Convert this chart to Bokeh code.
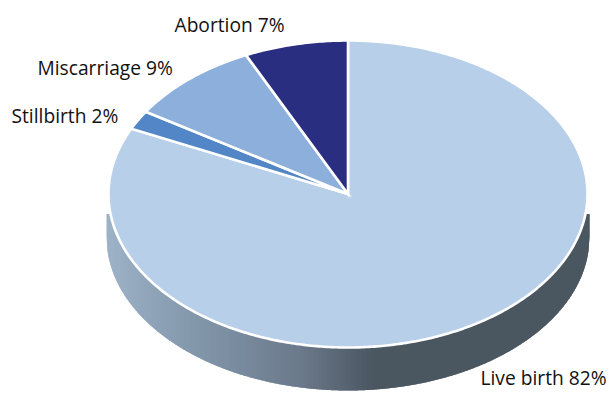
import numpy as np
from bokeh.plotting import figure
from bokeh.models import Range1d
from bokeh.core.properties import value
from bokeh.embed import file_html
from bokeh.resources import INLINE

# data
categories = ["Live birth", "Stillbirth", "Miscarriage", "Abortion"]
percent = [82, 2, 9, 7]
colors = ["#b8cfe9", "#5386c6", "#8cafdc", "#2a2e80"]

# layout (picture pixels)
cx, cy, rx, ry = 347.5, 193.5, 239.5, 153.5
depth = 43
label_x = [480, 11, 37, 174]
label_y = [377, 115, 67, 24]
wall_stops_x = [106, 200, 300, 375, 589]
wall_stops_r = [158, 130, 108, 74, 74]
wall_stops_g = [178, 150, 122, 86, 86]
wall_stops_b = [200, 170, 140, 97, 97]

p = figure(width=616, height=396, x_range=Range1d(0, 616), y_range=Range1d(396, 0),
           output_backend="svg", toolbar_location=None, min_border=0,
           outline_line_color=None, background_fill_color="white", border_fill_color="white")
p.axis.visible = False
p.grid.visible = False

# side wall, as overlapping vertical strips following the lower ellipse
xs_edge = np.arange(106.0, 590.0, 1.0)
rw = rx + 2.0
by = cy + depth + ry * np.sqrt(np.clip(1 - ((xs_edge - cx) / rw) ** 2, 0, 1))
sx, sy, sc = [], [], []
for i in range(len(xs_edge) - 1):
    x0, x1 = xs_edge[i], xs_edge[i + 1]
    x2 = xs_edge[min(i + 2, len(xs_edge) - 1)]
    y2 = by[min(i + 2, len(xs_edge) - 1)]
    sx.append([x0, x2, x2, x1, x0])
    sy.append([cy + 20, cy + 20, y2, by[i + 1], by[i]])
    m = (x0 + x1) / 2
    r = int(np.interp(m, wall_stops_x, wall_stops_r))
    g = int(np.interp(m, wall_stops_x, wall_stops_g))
    b = int(np.interp(m, wall_stops_x, wall_stops_b))
    sc.append(f"#{r:02x}{g:02x}{b:02x}")
p.patches(sx, sy, fill_color=sc, line_color=None)

# top face, clockwise from twelve o'clock
total = sum(percent)
start = 0.0
for v, c in zip(percent, colors):
    end = start + v / total * 2 * np.pi
    t = np.linspace(start, end, max(int(v * 6), 8))
    px = np.r_[cx, cx + rx * np.sin(t)]
    py = np.r_[cy, cy - ry * np.cos(t)]
    p.patch(px, py, fill_color=c, line_color="white", line_width=2.6, line_join="miter")
    start = end

for name, v, lx, ly in zip(categories, percent, label_x, label_y):
    p.text([lx], [ly], text=[f"{name} {v}%"], text_font=value("Open Sans"),
           text_font_size="19.2px", text_color="#111111",
           text_baseline="middle", text_align="left")

open("out.html", "w").write(file_html(p, INLINE))
